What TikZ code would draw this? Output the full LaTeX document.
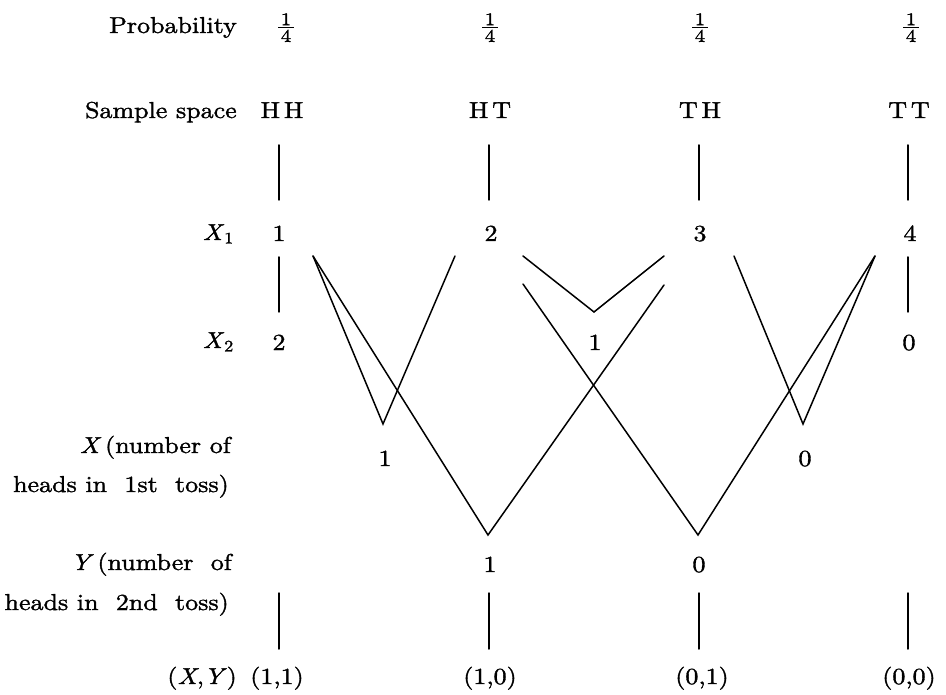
\RequirePackage{fix-cm}
\documentclass[tikz,border=0pt]{standalone}
\usepackage{fontspec}
\setmainfont{lmroman10-regular.otf}[FakeStretch=1.13, FakeBold=1.5, ItalicFont=lmroman10-italic.otf, ItalicFeatures={FakeBold=1.5}]
\newcommand{\quarterfrac}{\setlength\arrayrulewidth{1.2pt}\begin{tabular}{@{\hspace{2.5pt}}c@{\hspace{2.5pt}}}1\\[-3pt]\hline\rule{0pt}{14pt}4\end{tabular}}
\begin{document}
\begin{tikzpicture}[x=1pt,y=-1pt,
  txt/.style={font=\fontsize{23}{27}\selectfont, inner sep=0pt, anchor=base},
  lab/.style={txt, anchor=base east},
  frc/.style={font=\fontsize{18}{15}\selectfont, inner sep=0pt, anchor=north},
  ln/.style={line width=1.5pt, line cap=round}]
\useasboundingbox (0,0) rectangle (946,695);
\def\ca{279}\def\cb{490}\def\cc{700}\def\cd{909}
% row labels
\node[lab] (lprob) at (237,33) {Probability};
\node[lab] (lss) at (237,118) {Sample space};
\node[lab] (lx1) at (234,240) {\textit{X}\textsubscript{1}};
\node[lab] (lx2) at (234,348) {\textit{X}\textsubscript{2}};
\node[lab] (lxa) at (231,453) {\textit{X}\,(number of};
\node[lab] (lxb) at (229,492) {heads in\ \ 1st\ \ toss)};
\node[lab] (lya) at (232,570) {\textit{Y}\,(number\ \ of};
\node[lab] (lyb) at (229,610) {heads in\ \ 2nd\ \ toss)};
\node[lab] (lxy) at (237,684) {(\textit{X},\textit{Y})};
% probabilities
\node[frc] (p1) at (286,13) {\quarterfrac};
\node[frc] (p2) at (\cb,13) {\quarterfrac};
\node[frc] (p3) at (\cc,13) {\quarterfrac};
\node[frc] (p4) at (911,13) {\quarterfrac};
% sample space
\node[txt] (hh) at (282,118) {H\,H};
\node[txt] (ht) at (\cb,118) {H\,T};
\node[txt] (th) at (\cc,118) {T\,H};
\node[txt] (tt) at (\cd,118) {T\,T};
% X1
\node[txt] (a1) at (\ca,241) {1};
\node[txt] (a2) at (491,241) {2};
\node[txt] (a3) at (\cc,241) {3};
\node[txt] (a4) at (910,241) {4};
% X2
\node[txt] (b2) at (\ca,350) {2};
\node[txt] (b1) at (595,350) {1};
\node[txt] (b0) at (909,350) {0};
% X
\node[txt] (x1) at (385,466) {1};
\node[txt] (x0) at (805,466) {0};
% Y
\node[txt] (y1) at (\cb,572) {1};
\node[txt] (y0) at (699,572) {0};
% (X,Y)
\node[txt] (r11) at (277,684) {(1,1)};
\node[txt] (r10) at (\cb,684) {(1,0)};
\node[txt] (r01) at (702,684) {(0,1)};
\node[txt] (r00) at (\cd,684) {(0,0)};
% coordinates
\foreach \n/\x in {1/279,2/489,3/699,4/908}{
  \coordinate (st\n) at (\x,145);
  \coordinate (sb\n) at (\x,200);
  \coordinate (bt\n) at (\x,593);
  \coordinate (bb\n) at (\x,649);
}
\coordinate (mt1) at (279,257); \coordinate (mb1) at (279,312);
\coordinate (mt4) at (908,257); \coordinate (mb4) at (908,312);
\coordinate (vX1) at (383,424);
\coordinate (vX0) at (803,424);
\coordinate (vY1) at (488,535);
\coordinate (vY0) at (698,535);
\coordinate (v21) at (594,312);
\coordinate (e1a) at (313,256);
\coordinate (e2a) at (455,256);
\coordinate (e2b) at (523,256);
\coordinate (e2c) at (523,284);
\coordinate (e3a) at (664,256);
\coordinate (e3b) at (664,285);
\coordinate (e3c) at (734,256);
\coordinate (e4a) at (875,256);
% vertical connectors
\foreach \n in {1,2,3,4}{
  \draw[ln] (st\n) -- (sb\n);
  \draw[ln] (bt\n) -- (bb\n);
}
\draw[ln] (mt1) -- (mb1);
\draw[ln] (mt4) -- (mb4);
% diagonal connectors
\draw[ln, line join=miter] (e1a) -- (vX1) -- (e2a);
\draw[ln, line join=miter] (e1a) -- (vY1) -- (e3b);
\draw[ln, line join=miter] (e2b) -- (v21) -- (e3a);
\draw[ln, line join=miter] (e2c) -- (vY0) -- (e4a);
\draw[ln, line join=miter] (e3c) -- (vX0) -- (e4a);
\end{tikzpicture}
\end{document}
